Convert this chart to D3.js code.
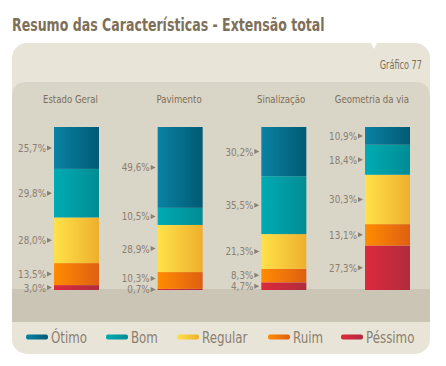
<!DOCTYPE html>
<html><head><meta charset="utf-8">
<script src="https://cdn.jsdelivr.net/npm/d3@7"></script>
<style>
html,body{margin:0;padding:0;background:#fff;}
svg{display:block;}
text{font-family:"DejaVu Sans",sans-serif;}
</style></head>
<body>
<script>
const title = "Resumo das Características - Extensão total";
const chartNo = "Gráfico 77";
const categories = ["Estado Geral", "Pavimento", "Sinalização", "Geometria da via"];
const seriesNames = ["Ótimo", "Bom", "Regular", "Ruim", "Péssimo"];
const otimo   = [25.7, 49.6, 30.2, 10.9];
const bom     = [29.8, 10.5, 35.5, 18.4];
const regular = [28.0, 28.9, 21.3, 30.3];
const ruim    = [13.5, 10.3, 8.3, 13.1];
const pessimo = [3.0, 0.7, 4.7, 27.3];
const seriesValues = [otimo, bom, regular, ruim, pessimo];
const colorsLight = ["#0a82a3", "#00abb2", "#ffe24a", "#ff8c00", "#dc2a3c"];
const colorsDark  = ["#005a74", "#008c95", "#eeaf2c", "#df5f12", "#b02c3c"];

const W = 446, H = 366;
const svg = d3.select("body").append("svg").attr("width", W).attr("height", H);
const defs = svg.append("defs");
seriesNames.forEach((s, i) => {
  const g = defs.append("linearGradient").attr("id", "g" + i)
    .attr("x1", "0%").attr("x2", "100%").attr("y1", "0%").attr("y2", "0%");
  g.append("stop").attr("offset", "0%").attr("stop-color", colorsLight[i]);
  g.append("stop").attr("offset", "100%").attr("stop-color", colorsDark[i]);
});
function ctext(sel, x, y, s) {
  return sel.append("text").attr("transform", `translate(${x},${y}) scale(${s},1)`);
}

// title
ctext(svg, 12, 31, 0.74).text(title)
  .attr("font-size", 17).attr("font-weight", "bold").attr("fill", "#7e6f58");

// outer panel
const px0 = 12, px1 = 430, py0 = 43, py1 = 354;
svg.append("rect").attr("x", px0).attr("y", py0).attr("width", px1 - px0).attr("height", py1 - py0)
  .attr("rx", 15).attr("fill", "#e8e4d8");
svg.append("path").attr("d", `M371,${py0} L377,${py0} L374,${py0 + 6} Z`).attr("fill", "#fff");
ctext(svg, 422, 69, 0.68).attr("text-anchor", "end")
  .text(chartNo).attr("font-size", 12).attr("fill", "#7e6f58");

// inner panel
const iy0 = 82, iy1 = 322, bandY = 289;
const r = 15;
svg.append("path").attr("d",
  `M${px0},${iy1} L${px0},${iy0 + r} Q${px0},${iy0} ${px0 + r},${iy0} L${px1 - r},${iy0} Q${px1},${iy0} ${px1},${iy0 + r} L${px1},${iy1} Z`)
  .attr("fill", "#d9d5c7");
svg.append("rect").attr("x", px0).attr("y", bandY).attr("width", px1 - px0).attr("height", iy1 - bandY)
  .attr("fill", "#cac5b4");

// scales
const x = d3.scaleBand().domain(categories).range([54, 410]).paddingInner(0.566).paddingOuter(0);
const y = d3.scaleLinear().domain([0, 100]).range([290, 127]);

const table = categories.map((c, j) => {
  const o = { cat: c };
  seriesNames.forEach((s, i) => o[s] = seriesValues[i][j]);
  return o;
});
const stack = d3.stack().keys(seriesNames.slice().reverse())(table);

const gBars = svg.append("g");
stack.forEach(layer => {
  const i = seriesNames.indexOf(layer.key);
  gBars.selectAll(null).data(layer).enter().append("rect")
    .attr("x", d => x(d.data.cat))
    .attr("y", d => y(d[1]))
    .attr("width", x.bandwidth())
    .attr("height", d => y(d[0]) - y(d[1]))
    .attr("fill", `url(#g${i})`);
});
categories.forEach((c, j) => {
  const items = stack.map(layer => {
    const d = layer[j];
    return { v: d[1] - d[0], cy: (y(d[0]) + y(d[1])) / 2 };
  });
  for (let k = 1; k < items.length; k++) {
    if (items[k - 1].cy - items[k].cy < 11) items[k].cy = items[k - 1].cy - 11;
  }
  const g = svg.append("g").selectAll("g").data(items).enter().append("g")
    .attr("transform", d => `translate(${x(c) - 2},${d.cy})`);
  g.append("path").attr("d", "M-5,-2.5 L0,0 L-5,2.5 Z").attr("fill", "#8a8071");
  g.append("text").attr("transform", "translate(-6,4) scale(0.8,1)").attr("text-anchor", "end")
    .attr("font-size", 11).attr("fill", "#8a8071")
    .text(d => d3.format(".1f")(d.v).replace(".", ",") + "%");
});

// column titles
svg.append("g").selectAll("text").data(categories).enter().append("text")
  .attr("transform", d => `translate(${x(d) + x.bandwidth() - 1},103) scale(0.78,1)`)
  .attr("text-anchor", "end")
  .attr("font-size", 11).attr("fill", "#7e6f58").text(d => d);

// legend
const legendX = [26, 106, 177, 268, 341];
const lg = svg.append("g").selectAll("g").data(seriesNames).enter().append("g")
  .attr("transform", (d, i) => `translate(${legendX[i]},337)`);
lg.append("rect").attr("x", 0).attr("y", -2.5).attr("width", 22).attr("height", 5).attr("rx", 2)
  .attr("fill", (d, i) => `url(#g${i})`);
lg.append("text").attr("transform", "translate(25,5.5) scale(0.79,1)")
  .attr("font-size", 15).attr("fill", "#8a8071").text(d => d);
</script>
</body></html>
